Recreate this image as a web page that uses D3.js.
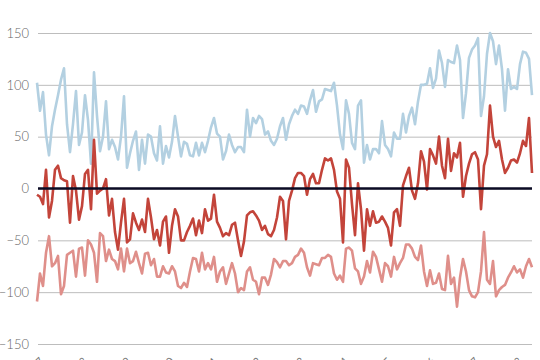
<!DOCTYPE html>
<html>
<head>
<meta charset="utf-8">
<script src="https://cdn.jsdelivr.net/npm/d3@7"></script>
<style>
html,body{margin:0;padding:0;background:#fff;}
svg{display:block;}
text{font-family:Lato,"Open Sans",sans-serif;}
</style>
</head>
<body>
<svg id="chart" width="540" height="360"></svg>
<script>
// Tick labels on the y axis
const yTicks = [-150, -100, -50, 0, 50, 100, 150];
// Tick labels on the x axis (only their tops are visible in the frame)
const xTickLabels = ["2007","2008","2009","2010","2011","2012","2013","2014","2015","2016","2017","2018"];

// Upper series (light blue)
const seriesUpper = [
102,75,93,52,32,60,76,90,105,116,62,35,62,94,42,54,90,66,24,112,70,36,50,84,38,47,40,28,50,89,20,34,46,55,18,47,24,52,50,34,27,60,24,41,30,45,70,50,31,45,43,32,31,44,32,
44,35,46,59,68,53,50,28,36,52,42,35,40,40,35,76,50,68,63,70,67,52,55,46,42,48,60,68,47,62,70,76,72,80,79,72,85,95,74,84,86,96,95,94,102,80,52,38,85,72,44,38,80,
85,25,42,28,38,38,34,65,42,38,31,54,48,48,72,54,70,78,62,84,100,100,101,116,97,106,133,121,98,124,122,121,138,124,68,92,126,134,138,145,70,89,130,150,142,120,138,115,75,115,96,98,96,120,132,131,125,90
];

// Lower series (light red)
const seriesLower = [
-109,-82,-94,-62,-46,-75,-72,-65,-102,-94,-64,-62,-60,-85,-58,-57,-84,-50,-54,-62,-90,-43,-46,-70,-59,-68,-70,-78,-58,-80,-58,-72,-70,-61,-72,-82,-63,-62,-74,-68,-85,-85,-75,-81,-82,-75,-80,-94,-96,-91,-95,-80,-67,-68,-80,
-62,-78,-72,-78,-66,-90,-80,-76,-92,-82,-72,-82,-100,-96,-98,-80,-76,-88,-90,-102,-86,-86,-93,-83,-68,-71,-76,-70,-70,-74,-72,-66,-64,-58,-62,-76,-84,-72,-73,-74,-67,-67,-64,-66,-82,-88,-84,-90,-58,-57,-60,-77,-80,
-92,-85,-70,-81,-61,-66,-78,-90,-72,-75,-85,-66,-78,-72,-67,-54,-54,-58,-66,-69,-55,-80,-94,-79,-92,-91,-82,-97,-98,-65,-92,-86,-114,-86,-68,-80,-98,-104,-105,-100,-80,-42,-88,-92,-70,-104,-98,-95,-93,-86,-81,-75,-81,-78,-86,-75,-68,-76
];

// Middle series (dark red)
const seriesMiddle = [
-6,-8,-15,18,-28,-12,18,22,10,8,7,-33,12,-2,-30,-17,14,18,-20,47,-5,-2,0,9,-26,-10,-42,-59,-33,-10,-52,-49,-24,-33,-40,-30,-42,-10,-28,-49,-40,-55,-32,-27,-62,-36,-20,-27,-50,-50,-42,-36,-29,-45,-31,
-43,-20,-31,-29,-6,-32,-38,-46,-43,-45,-35,-33,-50,-65,-51,-26,-23,-22,-26,-31,-40,-36,-44,-46,-40,-28,-8,-12,-49,-12,-2,10,15,15,12,-6,9,14,5,5,18,29,27,29,18,-3,-10,-52,28,20,-15,-45,5,
-20,-60,-20,-36,-22,-33,-32,-27,-32,-38,-55,-23,-20,-36,3,12,20,-2,-10,5,36,26,-1,38,32,24,50,22,10,48,17,34,30,44,-8,12,24,33,35,28,-20,22,33,80,50,40,46,28,15,20,27,28,25,34,46,41,68,15
];

const svg = d3.select("#chart");
const margin = {left: 37, right: 8, top: 33, bottom: 16};
const W = 540, H = 360;

const n = seriesUpper.length;
const x = d3.scaleLinear().domain([0, n - 1]).range([37, 532]);
const y = d3.scaleLinear().domain([-150, 150]).range([344, 33]);

// gridlines + y labels
const yAxis = d3.axisLeft(y).tickValues(yTicks).tickSize(-(532 - 38)).tickPadding(9).tickFormat(d3.format("d"));
const gy = svg.append("g").attr("transform", "translate(38,0)").call(yAxis);
gy.select(".domain").remove();
gy.selectAll(".tick line").attr("stroke", "#bdbdbd").attr("stroke-width", 1);
gy.selectAll(".tick text").attr("fill", "#666").attr("font-size", 13).attr("font-weight", 300)
  .attr("font-family", "Lato, 'Open Sans', sans-serif");

// x axis labels (rotated, mostly cut off by the frame)
const xTickScale = d3.scalePoint().domain(xTickLabels).range([37, 37 + 43.5 * (xTickLabels.length - 1)]);
const xAxis = d3.axisBottom(xTickScale).tickSize(0).tickPadding(0);
const gx = svg.append("g").attr("transform", "translate(0,355)").call(xAxis);
gx.select(".domain").remove();
gx.selectAll(".tick text")
  .attr("fill", "#777").attr("font-size", 11)
  .attr("font-family", "Lato, 'Open Sans', sans-serif")
  .attr("text-anchor", "end")
  .attr("dy", "0.9em")
  .attr("transform", "rotate(-45)");

const line = d3.line().x((d, i) => x(i)).y(d => y(d)).curve(d3.curveLinear);

svg.append("path").datum(seriesUpper).attr("d", line)
  .attr("fill", "none").attr("stroke", "#b3d0e1").attr("stroke-width", 2.6).attr("stroke-linejoin", "round");
svg.append("path").datum(seriesLower).attr("d", line)
  .attr("fill", "none").attr("stroke", "#df8f8a").attr("stroke-width", 2.6).attr("stroke-linejoin", "round");
svg.append("path").datum(seriesMiddle).attr("d", line)
  .attr("fill", "none").attr("stroke", "#c3443a").attr("stroke-width", 2.6).attr("stroke-linejoin", "round");

// zero line
svg.append("line")
  .attr("x1", 38).attr("x2", 532)
  .attr("y1", y(0)).attr("y2", y(0))
  .attr("stroke", "#0b0b24").attr("stroke-width", 2.5);
</script>
</body>
</html>
